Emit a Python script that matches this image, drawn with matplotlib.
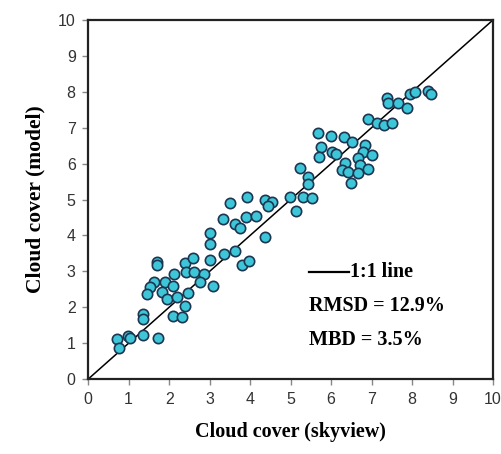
import matplotlib
matplotlib.use("Agg")
import matplotlib.pyplot as plt

# -------- DATA --------
skyview = [
    0.72, 0.77, 0.99, 1.04, 1.36, 1.73, 1.36, 1.36,
    1.70, 1.70, 2.40, 2.59, 3.01, 3.36, 2.12, 2.42, 2.62, 2.86,
    2.77, 3.09, 1.63, 1.90, 2.10, 1.53, 1.46, 1.83, 1.95, 2.20,
    2.47, 2.40, 2.10, 2.32,
    3.93, 3.51, 4.37, 4.54, 4.44, 3.33, 3.63, 3.75, 3.90, 4.15,
    4.37, 3.01, 3.01, 3.63, 3.80, 3.98,
    5.68, 6.00, 6.32, 6.52, 5.75, 5.70, 6.02, 6.12, 6.84, 6.79,
    7.01, 6.67, 6.72, 6.35, 6.27, 6.42, 6.67, 6.91, 6.49, 5.23,
    5.43, 5.43, 4.99, 5.31, 5.53, 5.14,
    8.40, 8.47, 7.95, 8.07, 7.38, 7.41, 7.65, 7.88, 6.91, 7.14,
    7.31, 7.51,
]
model = [
    1.11, 0.86, 1.19, 1.14, 1.22, 1.14, 1.81, 1.67,
    3.25, 3.17, 3.22, 3.36, 3.33, 3.47, 2.92, 2.97, 2.97, 2.92,
    2.69, 2.58, 2.69, 2.69, 2.58, 2.56, 2.36, 2.42, 2.22, 2.28,
    2.39, 2.03, 1.75, 1.72,
    5.08, 4.89, 5.00, 4.92, 4.83, 4.47, 4.31, 4.22, 4.50, 4.53,
    3.97, 4.08, 3.75, 3.58, 3.19, 3.28,
    6.86, 6.78, 6.75, 6.61, 6.47, 6.19, 6.33, 6.28, 6.53, 6.31,
    6.25, 6.17, 5.97, 6.03, 5.83, 5.78, 5.75, 5.86, 5.47, 5.89,
    5.64, 5.42, 5.06, 5.08, 5.03, 4.69,
    8.03, 7.94, 7.94, 8.00, 7.83, 7.69, 7.69, 7.56, 7.25, 7.14,
    7.08, 7.14,
]
ticks = list(range(0, 11))
stats = ["RMSD = 12.9%", "MBD = 3.5%"]

# -------- PLOT --------
fig = plt.figure(figsize=(5.01, 4.54), dpi=100)
ax = fig.add_axes([0.176, 0.165, 0.808, 0.791])

ax.plot([0, 10], [0, 10], color="black", lw=1.1, zorder=2)
ax.scatter(skyview, model, s=55, c="#3cc6d8", edgecolors="#1d3550",
           linewidths=1.2, zorder=3)

ax.set_xlim(0, 10)
ax.set_ylim(0, 10)
ax.set_xticks(ticks)
ax.set_yticks(ticks)
for s in ax.spines.values():
    s.set_color("#222222")
    s.set_linewidth(1.6)
ax.tick_params(direction="out", length=4, width=1, color="#888888",
               labelsize=11.5, labelcolor="#333333", pad=5)
for lab in ax.get_xticklabels() + ax.get_yticklabels():
    lab.set_family("Liberation Sans")

lbl = dict(family="Liberation Serif", fontweight="bold", fontsize=14.5)
ax.set_xlabel("Cloud cover (skyview)", labelpad=11, **lbl)
ax.set_ylabel("Cloud cover (model)", labelpad=9,
              family="Liberation Serif", fontweight="bold", fontsize=15.5)

# legend-like annotation
ax.plot([5.45, 6.45], [2.98, 2.98], color="black", lw=1.6)
ax.text(6.47, 2.98, "1:1 line", va="center", ha="left", **lbl)
ax.text(5.45, 2.03, stats[0], va="center", ha="left", **lbl)
ax.text(5.45, 1.09, stats[1], va="center", ha="left", **lbl)

fig.savefig("out.png", dpi=100)
